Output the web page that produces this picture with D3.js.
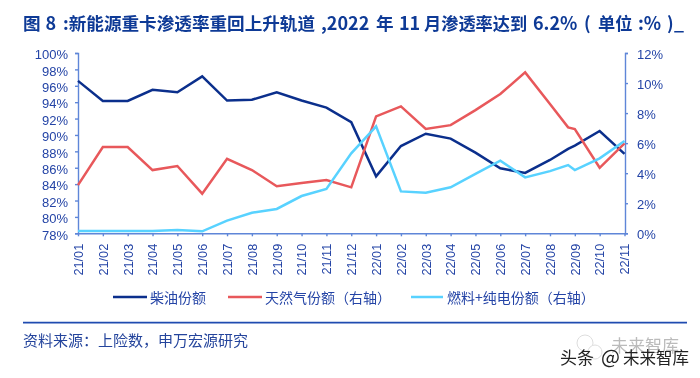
<!DOCTYPE html>
<html><head><meta charset="utf-8">
<script src="https://cdn.jsdelivr.net/npm/d3@7/dist/d3.min.js"></script>
<style>
html,body{margin:0;padding:0;background:#fff;}
svg{display:block;filter:blur(0.35px);}
</style></head><body><svg id="c" width="700" height="378"></svg>
<script>
const categories = ["21/01","21/02","21/03","21/04","21/05","21/06","21/07","21/08","21/09","21/10","21/11","21/12","22/01","22/02","22/03","22/04","22/05","22/06","22/07","22/08","22/09","22/10","22/11"];
// month index of each observation; the source has an extra reading shortly before 22/09
const observedAt = [0,1,2,3,4,5,6,7,8,9,10,11,12,13,14,15,16,17,18,19,19.73,20,21,22];
const dieselShare = [96.6,94.15,94.15,95.5,95.2,97.15,94.2,94.3,95.2,94.2,93.33,91.55,84.95,88.65,90.15,89.55,87.85,85.93,85.36,86.95,88.29,88.69,90.48,87.7];
const gasShare = [3.21,5.74,5.74,4.21,4.48,2.64,4.96,4.21,3.13,3.35,3.55,3.06,7.78,8.45,6.94,7.2,8.2,9.27,10.71,8.6,7.05,6.94,4.36,5.99];
const electricShare = [0.15,0.15,0.15,0.15,0.22,0.13,0.84,1.37,1.62,2.48,2.95,5.32,7.12,2.79,2.7,3.06,3.95,4.83,3.72,4.14,4.54,4.21,4.99,6.14];
const leftTicks = [78,80,82,84,86,88,90,92,94,96,98,100];
const rightTicks = [0,2,4,6,8,10,12];
const titleParts = ["图","8",":新能源重卡渗透率重回上升轨道",",2022","年","11","月渗透率达到","6.2%","(","单位",":%",")","_"];
const sourceText = "资料来源：上险数，申万宏源研究";
const legendItems = ["柴油份额","天然气份额（右轴）","燃料+纯电份额（右轴）"];

const colors = {diesel:"#0b2f8c", gas:"#e8585b", electric:"#58d2ff", axis:"#5f86d8", text:"#2444a6", title:"#0e3a96", rule:"#1f4bb0"};
const cjk = "'Noto Sans CJK SC','Noto Sans',sans-serif";
const latin = "'Liberation Sans',Arial,sans-serif";

const svg = d3.select("#c");
const x = d3.scaleLinear().domain([0, categories.length-1]).range([78,624.5]);
const yL = d3.scaleLinear().domain([78,100]).range([233.3,53]);
const yR = d3.scaleLinear().domain([0,12]).range([233.3,53]);

// title, set piece by piece to follow the reference's wide gaps
const titleX = [23,45.5,63,321,376,399,424,533,584,598,638,667,674];
const titleSize = [17.6,18,17.6,18,17.6,18,17.2,18,17.6,17.2,18,17.6,17.6];
const title = svg.append("text").attr("y",29.5).attr("font-family",cjk).attr("font-weight",700).attr("fill",colors.title);
titleParts.forEach((t,i)=>{
  title.append("tspan").attr("x",titleX[i]).attr("font-size",titleSize[i]).text(t);
});

function styleAxis(g){
  g.selectAll("path,line").attr("stroke",colors.axis).attr("stroke-width",1.4);
  g.selectAll("text").attr("font-family",latin).attr("fill",colors.text);
}
const axL = svg.append("g").attr("transform","translate(78,0)")
  .call(d3.axisLeft(yL).tickValues(leftTicks).tickFormat(d=>d+"%").tickSize(3).tickPadding(7).tickSizeOuter(3));
styleAxis(axL); axL.selectAll("text").attr("font-size",13).attr("dy","0.44em");
const axR = svg.append("g").attr("transform","translate(625,0)")
  .call(d3.axisRight(yR).tickValues(rightTicks).tickFormat(d=>d+"%").tickSize(3).tickPadding(9).tickSizeOuter(3));
styleAxis(axR); axR.selectAll("text").attr("font-size",13).attr("dy","0.42em");
const axB = svg.append("g").attr("transform","translate(0,233.3)")
  .call(d3.axisBottom(x).tickValues(d3.range(categories.length)).tickFormat(i=>categories[i]).tickSize(3).tickSizeOuter(0));
styleAxis(axB);
axB.selectAll("text").attr("font-size",12.7).attr("text-anchor","end").attr("dy","0.34em")
  .attr("transform","translate(0,10.5) rotate(-90)").attr("x",0).attr("y",0);

// lines
const mk = (scale,vals) => d3.line().x((d,i)=>x(observedAt[i])).y(d=>scale(d))(vals);
[[yL,dieselShare,colors.diesel],[yR,gasShare,colors.gas],[yR,electricShare,colors.electric]].forEach(([s,v,c])=>{
  svg.append("path").attr("d",mk(s,v)).attr("fill","none").attr("stroke",c)
    .attr("stroke-width",2.5).attr("stroke-linejoin","miter");
});

// legend
const legendSwatchX = [[113,147],[228,262],[411,443]];
const legendTextX = [150,265,447];
const legendColors = [colors.diesel,colors.gas,colors.electric];
legendItems.forEach((t,i)=>{
  svg.append("line").attr("x1",legendSwatchX[i][0]).attr("x2",legendSwatchX[i][1]).attr("y1",297).attr("y2",297)
    .attr("stroke",legendColors[i]).attr("stroke-width",2.5);
  svg.append("text").attr("x",legendTextX[i]).attr("y",303).attr("font-family",cjk).attr("font-size",14)
    .attr("fill",colors.text).text(t);
});

// rule and source
svg.append("line").attr("x1",23).attr("x2",687).attr("y1",322.7).attr("y2",322.7).attr("stroke",colors.rule).attr("stroke-width",1.8);
svg.append("text").attr("x",23).attr("y",346).attr("font-family",cjk).attr("font-size",15).attr("fill","#24449c").text(sourceText);

// watermark
const wm = svg.append("g");
wm.append("circle").attr("cx",585).attr("cy",343).attr("r",8).attr("fill","none").attr("stroke","#ddd").attr("stroke-width",1);
wm.append("circle").attr("cx",595).attr("cy",352).attr("r",7).attr("fill","#fff").attr("stroke","#ddd").attr("stroke-width",1);
wm.append("text").attr("x",611).attr("y",352).attr("font-family",cjk).attr("font-size",17).attr("fill","#bbb").text("未来智库");
const mark = wm.append("text").attr("y",364).attr("font-family",cjk).attr("fill","#222");
mark.append("tspan").attr("x",560).attr("font-size",17).text("头条");
mark.append("tspan").attr("x",601).attr("font-size",20).text("@");
mark.append("tspan").attr("x",623).attr("font-size",16.5).text("未来智库");
</script></body></html>
